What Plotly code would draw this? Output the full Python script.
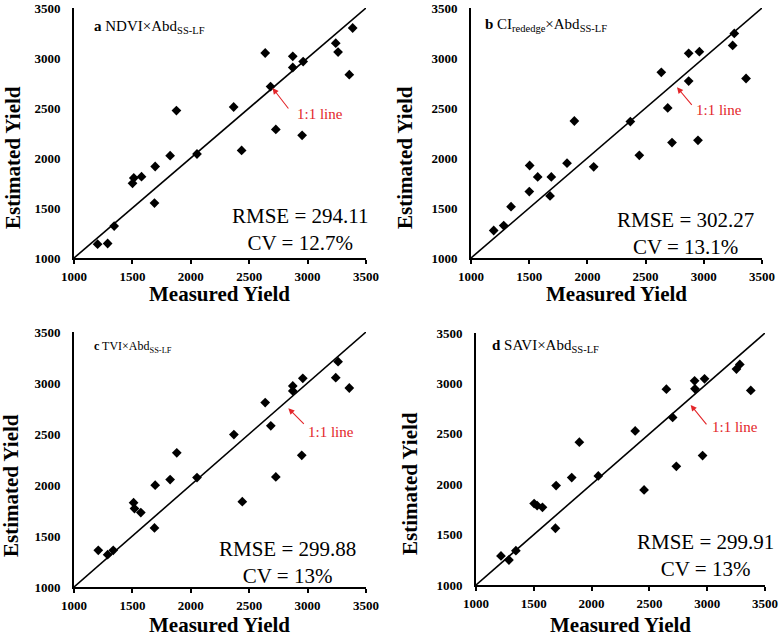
import plotly.graph_objects as go

# ---------------- data ----------------
measured_a = [1202, 1288, 1344, 1501, 1512, 1578, 1695, 1689, 1823, 1877, 2053, 2367,
              2435, 2637, 2683, 2728, 2873, 2873, 2953, 2962, 3241, 3261, 3357, 3386]
estimated_a = [1138, 1145, 1319, 1747, 1800, 1813, 1915, 1549, 2023, 2474, 2040, 2510,
               2076, 3050, 2714, 2286, 3017, 2905, 2227, 2964, 3148, 3059, 2833, 3300]

measured_b = [1195, 1281, 1344, 1501, 1504, 1573, 1690, 1679, 1825, 1888, 2054, 2369,
              2446, 2635, 2690, 2727, 2870, 2870, 2950, 2962, 3248, 3262, 3363]
estimated_b = [1275, 1324, 1513, 1664, 1925, 1811, 1811, 1621, 1948, 2370, 1912, 2364,
               2027, 2857, 2501, 2154, 3047, 2769, 2177, 3063, 3126, 3246, 2795]

measured_c = [1208, 1288, 1336, 1510, 1518, 1572, 1695, 1689, 1823, 1880, 2053, 2369,
              2441, 2637, 2685, 2728, 2873, 2873, 2950, 2959, 3241, 3261, 3357]
estimated_c = [1360, 1317, 1360, 1827, 1769, 1730, 1998, 1579, 2053, 2315, 2073, 2494,
               1837, 2808, 2580, 2079, 2971, 2922, 2291, 3046, 3052, 3209, 2951]

measured_d = [1216, 1285, 1345, 1503, 1529, 1575, 1693, 1687, 1828, 1894, 2058, 2377,
              2454, 2647, 2701, 2733, 2891, 2894, 2960, 2977, 3253, 3282, 3377]
estimated_d = [1288, 1248, 1341, 1808, 1788, 1771, 1986, 1563, 2066, 2417, 2082, 2529,
               1943, 2943, 2662, 2178, 3026, 2946, 2284, 3046, 3142, 3188, 2930]

panel_labels = ["<b>a</b> NDVI×Abd<sub>SS-LF</sub>",
                "<b>b</b> CI<sub>rededge</sub>×Abd<sub>SS-LF</sub>",
                "<b>c</b> TVI×Abd<sub>SS-LF</sub>",
                "<b>d</b> SAVI×Abd<sub>SS-LF</sub>"]
rmse_values = ["294.11", "302.27", "299.88", "299.91"]
cv_values = ["12.7%", "13.1%", "13%", "13%"]
tick_vals = [1000, 1500, 2000, 2500, 3000, 3500]
axis_range = [1000, 3500]
x_title = "Measured Yield"
y_title = "Estimated Yield"
line_label = "1:1 line"

# ---------------- layout helpers ----------------
W, H = 784, 639
FONT = "Liberation Serif"

def px_x(p):
    return p / W

def px_y(p):
    return 1 - p / H

# pixel boxes of each plot area: (left, right, top, bottom)
boxes = [(74, 366, 8, 258), (471, 762, 8, 258), (74, 366, 332, 587), (476, 765, 333, 585)]
series = [(measured_a, estimated_a), (measured_b, estimated_b),
          (measured_c, estimated_c), (measured_d, estimated_d)]

fig = go.Figure()
layout = dict(width=W, height=H, margin=dict(l=0, r=0, t=0, b=0, pad=0, autoexpand=False),
              paper_bgcolor="white", plot_bgcolor="white", showlegend=False,
              annotations=[])

# label pixel positions
label_pos = [(92, 27, 15), (483, 25, 15), (92, 347, 12), (490, 346, 15)]
stats_pos = [(300, 230), (685, 234), (287, 562), (705, 555)]
ytitle_pos = [(13, 158), (405, 158), (11, 486), (410, 484)]
xtitle_pos = [(220, 294), (616, 294), (220, 625), (620, 625)]
# 1:1 arrow head (data), arrow offsets (px), text (data)
arrow_info = [((2700, 2700), (17, 22), (3106, 2440)),
              ((2770, 2707), (16, 19), (3131, 2480)),
              ((2835, 2752), (17, 17), (3198, 2517)),
              ((2857, 2786), (17, 21), (3243, 2564))]

for i, ((xs, ys), (l, r, t, b)) in enumerate(zip(series, boxes)):
    n = i + 1
    xa = "x" if n == 1 else f"x{n}"
    ya = "y" if n == 1 else f"y{n}"
    xkey = "xaxis" if n == 1 else f"xaxis{n}"
    ykey = "yaxis" if n == 1 else f"yaxis{n}"

    fig.add_trace(go.Scatter(x=axis_range, y=axis_range, mode="lines",
                             line=dict(color="black", width=1.6),
                             xaxis=xa, yaxis=ya, hoverinfo="skip"))
    fig.add_trace(go.Scatter(x=xs, y=ys, mode="markers",
                             marker=dict(symbol="diamond", size=7.5, color="black"),
                             xaxis=xa, yaxis=ya))

    layout[xkey] = dict(domain=[px_x(l), px_x(r)], range=axis_range, anchor=ya,
                        automargin=False,
                        tickvals=tick_vals, showline=True, linecolor="black",
                        linewidth=1.8, ticks="outside", ticklen=4, tickwidth=1.5,
                        tickcolor="black", showgrid=False, zeroline=False,
                        ticklabelstandoff=1,
                        tickfont=dict(family=FONT, size=13, color="black", weight="bold"))
    layout[ykey] = dict(domain=[px_y(b), px_y(t)], range=axis_range, anchor=xa,
                        automargin=False,
                        tickvals=tick_vals, showline=True, linecolor="black",
                        linewidth=1.8, ticks="", showgrid=False, zeroline=False,
                        ticklabelstandoff=9,
                        tickfont=dict(family=FONT, size=13, color="black", weight="bold"))

    lx, ly, ls = label_pos[i]
    layout["annotations"].append(dict(
        text=panel_labels[i], xref="paper", yref="paper", x=px_x(lx), y=px_y(ly),
        xanchor="left", yanchor="middle", showarrow=False,
        font=dict(family=FONT, size=ls, color="black")))

    sx, sy = stats_pos[i]
    layout["annotations"].append(dict(
        text=f"RMSE = {rmse_values[i]}<br>CV = {cv_values[i]}",
        xref="paper", yref="paper", x=px_x(sx), y=px_y(sy),
        xanchor="center", yanchor="middle", align="center", showarrow=False,
        font=dict(family=FONT, size=21, color="black")))

    (hx, hy), (axo, ayo), (tx, ty) = arrow_info[i]
    layout["annotations"].append(dict(
        text="", xref=xa, yref=ya, x=hx, y=hy, ax=axo, ay=ayo,
        showarrow=True, arrowhead=2, arrowsize=1.1, arrowwidth=1.1,
        arrowcolor="#E3262A"))
    layout["annotations"].append(dict(
        text=line_label, xref=xa, yref=ya, x=tx, y=ty, showarrow=False,
        xanchor="center", yanchor="middle",
        font=dict(family=FONT, size=15, color="#E3262A")))

    yx, yy = ytitle_pos[i]
    layout["annotations"].append(dict(
        text=f"<b>{y_title}</b>", xref="paper", yref="paper", x=px_x(yx), y=px_y(yy),
        xanchor="center", yanchor="middle", textangle=-90, showarrow=False,
        font=dict(family=FONT, size=21, color="black")))

    tx2, ty2 = xtitle_pos[i]
    layout["annotations"].append(dict(
        text=f"<b>{x_title}</b>", xref="paper", yref="paper", x=px_x(tx2), y=px_y(ty2),
        xanchor="center", yanchor="middle", showarrow=False,
        font=dict(family=FONT, size=21, color="black")))

fig.update_layout(**layout)
fig.write_html("out.html", config={"displayModeBar": False},
               post_script="document.body.style.margin='0';document.body.style.overflow='hidden';")
